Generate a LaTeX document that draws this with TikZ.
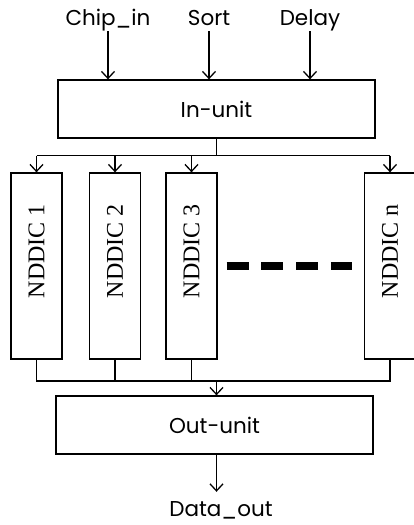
\documentclass[tikz,border=0pt]{standalone}
\usepackage{fontspec}
\setmainfont{Liberation Serif}
\newfontfamily\gothic{Poppins}
\usetikzlibrary{positioning,arrows.meta}
\tikzset{
  unitbox/.style={rectangle, draw, line width=1.3pt, minimum width=317pt, minimum height=58pt, font=\gothic\fontsize{21.5}{24}\selectfont},
  nddic/.style={rectangle, draw, line width=1.3pt, minimum width=51pt, minimum height=186pt},
  nddiclabel/.style={rotate=90, font=\fontsize{24}{28}\selectfont, inner sep=0pt},
  pinlabel/.style={font=\gothic\fontsize{21.5}{24}\selectfont, inner sep=1pt, text height=16pt, text depth=5pt},
  fwd/.style={-{Straight Barb[length=7pt,width=13pt]}, line width=1.3pt},
  wire/.style={line width=1.3pt},
}

\begin{document}
\begin{tikzpicture}[x=1pt,y=1pt]
  \useasboundingbox (0,0) rectangle (414,-525);

  \node[unitbox] (inunit) at (216.5,-109) {In-unit};
  \node[pinlabel] (chipin) at (108,-19.5) {Chip\_in};
  \node[pinlabel] (sort) at (209,-19.5) {Sort};
  \node[pinlabel] (delay) at (310,-19.5) {Delay};
  \foreach \p in {chipin,sort,delay}
    \draw[fwd] (\p.south) -- (\p.south |- inunit.north);

  % NDDIC columns
  \foreach \i/\x in {1/36.5, 2/115, 3/191.5, n/390} {
    \node[nddic] (box\i) at (\x,-266) {};
    \node[nddiclabel] (lbl\i) at ([yshift=15pt]box\i.center) {NDDIC \i};
  }
  \draw[line width=8pt, dash pattern=on 22pt off 12.7pt] ([xshift=9pt]box3.east) -- ([xshift=-12pt]boxn.west);

  % fan-out
  \draw[wire] (inunit.south) -- ++(0,-17) coordinate (split);
  \draw[wire] (box1.north |- split) -- (boxn.north |- split);
  \foreach \i in {1,2,3,n}
    \draw[fwd] (box\i.north |- split) -- (box\i.north);

  % fan-in
  \node[unitbox] (outunit) at (214.5,-425) {Out-unit};
  \coordinate (join) at (0,-381);
  \draw[wire] (box1.south) -- (box1.south |- join) -- (boxn.south |- join) -- (boxn.south);
  \draw[wire] (box2.south) -- (box2.south |- join);
  \draw[wire] (box3.south) -- (box3.south |- join);
  \draw[fwd] (inunit.south |- join) -- (inunit.south |- outunit.north);

  \node[pinlabel] (dataout) at (221,-510.5) {Data\_out};
  \draw[fwd] (inunit.south |- outunit.south) -- ([yshift=7pt]inunit.south |- dataout.north);
\end{tikzpicture}
\end{document}
